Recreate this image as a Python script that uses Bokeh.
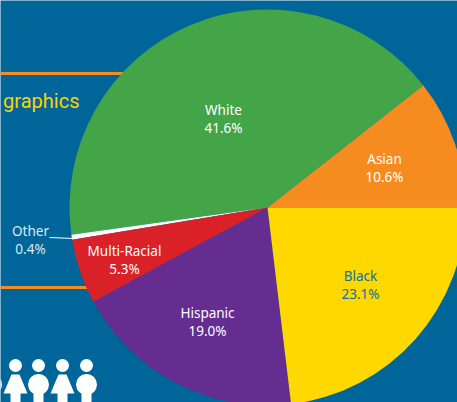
from math import pi
from bokeh.plotting import figure
from bokeh.models import Range1d
from bokeh.core.properties import value
from bokeh.embed import file_html
from bokeh.resources import INLINE

categories = ["Asian", "White", "Other", "Multi-Racial", "Hispanic", "Black"]
shares = [10.6, 41.6, 0.4, 5.3, 19.0, 23.1]
colors = ["#F68B1F", "#43A548", "#FFFFFF", "#DA2128", "#652D90", "#FFD800"]
text_colors = ["#FFFFFF", "#FFFFFF", "#DCE9F2", "#FFFFFF", "#FFFFFF", "#0F6FA5"]
label_x = [384, 223, 30, 124, 207, 360]
label_y = [158, 109, 230, 250, 312, 275]

BG = "#006699"
ORANGE = "#F68B1F"
W, H = 457, 402
Y = lambda py: 402 - py

p = figure(width=W, height=H, output_backend="svg", toolbar_location=None,
           x_range=Range1d(0, 457), y_range=Range1d(0, 402),
           min_border=0, background_fill_color=BG, border_fill_color=BG,
           outline_line_color=None)
p.axis.visible = False
p.grid.visible = False

# decorative rules and heading
p.line([0, 125], [Y(73), Y(73)], line_color=ORANGE, line_width=3)
p.line([0, 90], [Y(287), Y(287)], line_color=ORANGE, line_width=3)
p.text([79], [Y(100)], text=["graphics"], text_color="#FFD200", text_align="right",
       text_baseline="middle", text_font_size="20px",
       text_font=value("Roboto"))

# pie
cx, cy, r = 267, Y(207), 198
total = sum(shares)
a = 0.0
for s, c in zip(shares, colors):
    b = a + s / total * 2 * pi
    p.wedge(x=[cx], y=[cy], radius=r, start_angle=[a], end_angle=[b],
            fill_color=c, line_color=None)
    a = b

# leader line for Other
p.line([49, 73], [Y(237), Y(238)], line_color="#FFFFFF", line_width=1.2)

# labels
for name, s, x, y, tc in zip(categories, shares, label_x, label_y, text_colors):
    for txt, py in ((name, y), (f"{s:.1f}%", y + 18)):
        p.text([x], [Y(py)], text=[txt], text_color=tc, text_align="center",
               text_baseline="middle", text_font_size="13.5px",
               text_font=value("Noto Sans"))

# people icons
for kind, x in [("m", -9), ("f", 15), ("m", 38), ("f", 62), ("m", 86)]:
    p.circle([x], [Y(365)], radius=6.5, fill_color="#FFFFFF", line_color=None)
    if kind == "m":
        p.circle([x], [Y(384)], radius=10.5, fill_color="#FFFFFF", line_color=None)
        xs = [x - 5, x + 5, x + 5, x - 5]
        ys = [Y(390), Y(390), Y(402), Y(402)]
    else:
        xs = [x - 4, x + 4, x + 12, x + 5, x + 5, x - 5, x - 5, x - 12]
        ys = [Y(374), Y(374), Y(393), Y(393), Y(402), Y(402), Y(393), Y(393)]
    p.patch(xs, ys, fill_color="#FFFFFF", line_color=None)

open("out.html", "w").write(file_html(p, INLINE))
